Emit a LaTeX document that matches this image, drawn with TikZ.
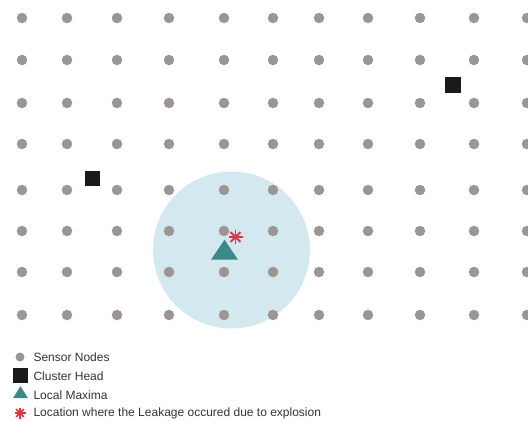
\documentclass[tikz,border=0pt]{standalone}
\usepackage{fontspec}
\setmainfont{Liberation Sans}
\usepackage{tikz}
\usetikzlibrary{positioning, shapes.geometric, calc}
\definecolor{snGray}{HTML}{9C9591}
\definecolor{snRange}{HTML}{D4E9EF}
\definecolor{snTeal}{HTML}{3A8A88}
\definecolor{snRed}{HTML}{E6303A}
\definecolor{snInk}{HTML}{1A1A1A}
\definecolor{snText}{HTML}{333333}

\begin{document}
\begin{tikzpicture}[
    x=1pt, y=-1pt,
    sensor/.style={circle, fill=snGray, inner sep=0pt, minimum size=10.5pt},
    clusterhead/.style={rectangle, fill=snInk, inner sep=0pt, minimum size=15.5pt},
    maxima/.style={isosceles triangle, isosceles triangle apex angle=68, shape border rotate=90,
                   fill=snTeal, inner sep=0pt, minimum height=17pt, minimum width=27pt},
    leak/.style={snRed, line width=1.8pt},
    legtext/.style={anchor=west, font=\fontsize{12}{13}\selectfont, text=snText},
]
\useasboundingbox (0,0) rectangle (528,421);

% ---- range of the local maxima ----
\fill[snRange] (231.5,250) circle[radius=78.5];

% ---- sensor grid ----
\foreach \x [count=\i] in {22,67,117,169,224,273,319,368,420,474,527}
  \foreach \y [count=\j] in {18,60,103,144,190,231,272,315}
    \node[sensor] (s-\i-\j) at (\x,\y) {};

% ---- cluster heads ----
\node[clusterhead] (ch1) at (92.5,178.5) {};
\node[clusterhead] (ch2) at (453,85) {};

% ---- local maxima and leakage ----
\node[maxima] (lm) at (224.5,252.5) {};
\coordinate (lk) at (235.5,237);
\foreach \a in {0,45,90,135}
  \draw[leak] ($(lk)+(\a:7)$) -- ($(lk)+(\a+180:7)$);

% ---- legend ----
\node[sensor, minimum size=9pt] (ls) at (20,357) {};
\node[legtext] (lsT) at (30,357) {Sensor Nodes};
\node[clusterhead] (lc) at (20.5,375.5) {};
\node[legtext] (lcT) at (30,376) {Cluster Head};
\node[maxima, minimum height=12pt, minimum width=15pt, isosceles triangle apex angle=64] (lt) at (20.5,394) {};
\node[legtext] (ltT) at (30,395) {Local Maxima};
\coordinate (la) at (20,413);
\foreach \a in {0,45,90,135}
  \draw[leak, line width=1.6pt] ($(la)+(\a:5.5)$) -- ($(la)+(\a+180:5.5)$);
\node[legtext] (laT) at (30,413) {Location where the Leakage occured due to explosion};

\end{tikzpicture}
\end{document}
